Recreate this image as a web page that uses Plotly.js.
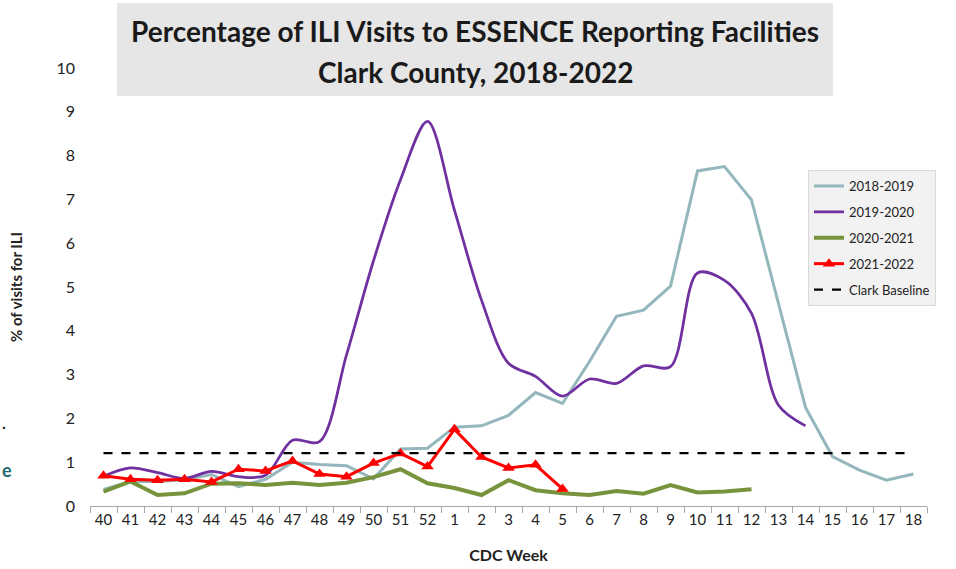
<!DOCTYPE html>
<html>
<head>
<meta charset="utf-8">
<script src="https://cdn.plot.ly/plotly-3.0.1.min.js"></script>
<style>
  html, body { margin: 0; padding: 0; background: #ffffff; }
  #chart { width: 956px; height: 569px; }
</style>
</head>
<body>
<div id="chart"></div>
<script>
// CDC weeks (category axis)
const weeks = ["40","41","42","43","44","45","46","47","48","49","50","51","52",
               "1","2","3","4","5","6","7","8","9","10","11","12","13","14","15","16","17","18"];

const s2018_2019 = [0.38,0.56,0.56,0.60,0.72,0.44,0.61,1.00,0.95,0.92,0.62,1.30,1.32,
                    1.80,1.83,2.07,2.59,2.34,3.30,4.33,4.47,5.02,7.65,7.75,6.99,4.65,2.25,1.13,0.82,0.59,0.73];

const s2019_2020 = [0.68,0.87,0.76,0.63,0.79,0.67,0.70,1.50,1.47,3.45,5.60,7.45,8.78,
                    6.75,4.70,3.26,2.96,2.51,2.90,2.80,3.20,3.18,5.32,5.15,4.40,2.30,1.83];

const s2020_2021 = [0.33,0.56,0.25,0.29,0.51,0.52,0.48,0.53,0.48,0.53,0.66,0.84,0.52,
                    0.41,0.25,0.59,0.36,0.29,0.25,0.34,0.28,0.48,0.31,0.33,0.38];

const s2021_2022 = [0.69,0.61,0.59,0.61,0.55,0.84,0.80,1.03,0.73,0.67,0.98,1.20,0.90,
                    1.75,1.12,0.87,0.94,0.39];

const baselineValue = 1.21;
const baseline = weeks.map(() => baselineValue);

const titleLine1 = "Percentage of ILI Visits to ESSENCE Reporting Facilities";
const titleLine2 = "Clark County, 2018-2022";

const traces = [
  {
    x: weeks.slice(0, s2018_2019.length), y: s2018_2019, name: "2018-2019",
    type: "scatter", mode: "lines", legendgroup: "a",
    line: { color: "#93b7bc", width: 3 }
  },
  {
    x: weeks.slice(0, s2019_2020.length), y: s2019_2020, name: "2019-2020",
    type: "scatter", mode: "lines", legendgroup: "b",
    line: { color: "#7030a0", width: 2.75, shape: "spline", smoothing: 0.9 }
  },
  {
    x: weeks.slice(0, s2020_2021.length), y: s2020_2021, name: "2020-2021",
    type: "scatter", mode: "lines", legendgroup: "c",
    line: { color: "#77933c", width: 4 }
  },
  {
    x: weeks.slice(0, s2021_2022.length), y: s2021_2022, name: "2021-2022",
    type: "scatter", mode: "lines+markers", legendgroup: "d",
    line: { color: "#ff0000", width: 3 },
    marker: { symbol: "triangle-up", size: 11, color: "#ff0000" }
  },
  {
    x: weeks, y: baseline, name: "Clark Baseline",
    type: "scatter", mode: "lines", legendgroup: "e",
    line: { color: "#000000", width: 2.25, dash: "dash" }
  }
];

const layout = {
  width: 956, height: 569,
  margin: { l: 90, r: 29, t: 68, b: 63 },
  paper_bgcolor: "#ffffff",
  plot_bgcolor: "#ffffff",
  font: { family: "Lato, 'Open Sans', sans-serif", color: "#222222" },
  title: {
    text: "<b>" + titleLine1 + "</b>",
    font: { family: "Lato, sans-serif", size: 28, color: "#1a1a1a" },
    x: 475 / 956, xanchor: "center", xref: "container",
    y: 1 - 32 / 569, yanchor: "middle", yref: "container"
  },
  shapes: [
    {
      type: "rect", xref: "paper", yref: "paper", layer: "below",
      x0: (117 - 90) / 837, x1: (833 - 90) / 837,
      y0: (506 - 96) / 438, y1: (506 - 3) / 438,
      fillcolor: "#e6e6e6", line: { width: 0 }
    }
  ],
  xaxis: {
    type: "category",
    categoryorder: "array", categoryarray: weeks,
    range: [-0.5, weeks.length - 0.5],
    showgrid: false, zeroline: false,
    showline: true, linecolor: "#a6a6a6", linewidth: 1,
    ticks: "outside", tickson: "boundaries", ticklen: 6, tickcolor: "#a6a6a6",
    tickangle: 0,
    tickfont: { family: "Lato, sans-serif", size: 15, color: "#222222" },
    title: { text: "<b>CDC Week</b>", font: { family: "Lato, sans-serif", size: 16, color: "#222222" }, standoff: 22 }
  },
  yaxis: {
    range: [0, 10],
    dtick: 1, tick0: 0,
    showgrid: false, zeroline: false, showline: false,
    ticks: "", ticklabelstandoff: 14,
    tickfont: { family: "Lato, sans-serif", size: 16, color: "#222222" },
    title: { text: "<b>% of visits for ILI</b>", font: { family: "Lato, sans-serif", size: 15, color: "#222222" }, standoff: 30 }
  },
  legend: {
    x: (808 - 90) / 837, xanchor: "left",
    y: (506 - 170) / 438, yanchor: "top",
    bgcolor: "#f2f2f2", bordercolor: "#d9d9d9", borderwidth: 1,
    font: { family: "Lato, sans-serif", size: 13, color: "#222222" },
    tracegroupgap: 6,
    traceorder: "grouped"
  },
  annotations: [
    { text: "<b>" + titleLine2 + "</b>", xref: "paper", yref: "paper",
      x: (475 - 90) / 837, xanchor: "center", y: (506 - 72) / 438, yanchor: "middle",
      showarrow: false, font: { family: "Lato, sans-serif", size: 28, color: "#1a1a1a" } },
    { text: "<b>e</b>", xref: "paper", yref: "paper",
      x: (0 - 90) / 837, xanchor: "left", y: (506 - 470) / 438, yanchor: "middle",
      showarrow: false, font: { family: "Lato, sans-serif", size: 18, color: "#1f6b73" } },
    { text: "<b>.</b>", xref: "paper", yref: "paper",
      x: (0 - 90) / 837, xanchor: "left", y: (506 - 422) / 438, yanchor: "middle",
      showarrow: false, font: { family: "Lato, sans-serif", size: 16, color: "#222222" } }
  ],
  showlegend: true
};

Plotly.newPlot("chart", traces, layout, { displayModeBar: false, staticPlot: true });
</script>
</body>
</html>
